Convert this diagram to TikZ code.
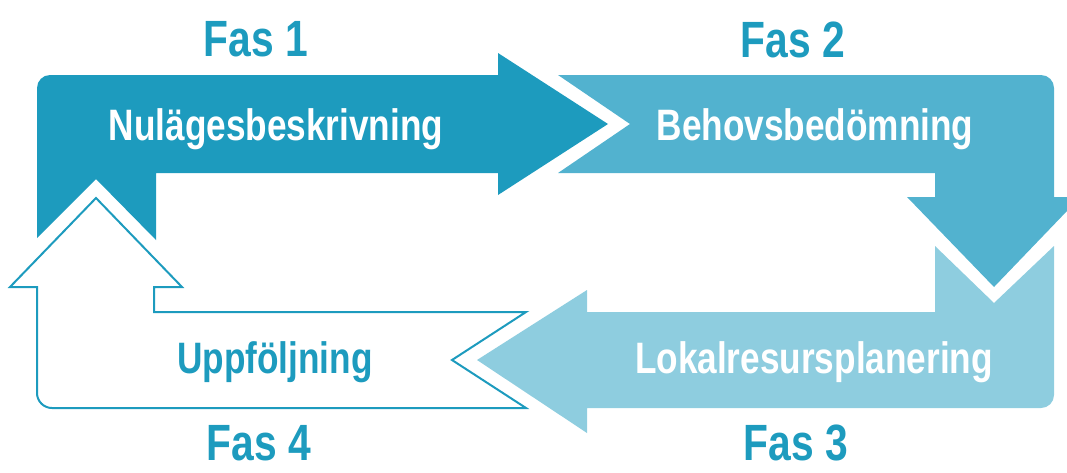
\documentclass[tikz,border=0pt]{standalone}
\usepackage{fontspec}
\setmainfont{Liberation Sans}[FakeStretch=0.8]
\usetikzlibrary{positioning}
\definecolor{fasone}{RGB}{29,155,190}
\definecolor{fastwo}{RGB}{82,178,207}
\definecolor{fasthree}{RGB}{142,205,223}

\begin{document}
\begin{tikzpicture}[x=1pt,y=-1pt,node distance=537pt,line join=miter,
		semithick]
		\tikzstyle{fas}=[text=fasone,inner sep=0pt,font=\fontsize{51}{55}\selectfont\bfseries]
		\tikzstyle{phase}=[text=white,inner sep=0pt,anchor=base,font=\fontsize{44}{48}\selectfont\bfseries]
		\tikzstyle{outline}=[draw=fasone,line width=2pt]
		
		\useasboundingbox (0,0) rectangle (1067,472);
		
		% Fas 1
		\fill[fasone] (37,238) -- (37,200) [rounded corners=13pt] -- (37,75) -- (300,75) [sharp corners]
		-- (498,75) -- (498,53) -- (608,124) -- (498,195) -- (498,173) -- (156,173) -- (156,240) -- (96,179) -- cycle;
		% Fas 2
		\fill[fastwo] (558,75) -- (800,75) [rounded corners=13pt] -- (1054,75) -- (1054,150) [sharp corners]
		-- (1054,197) -- (1067,197) -- (1067,211) -- (994,287) -- (907,197) -- (935,197) -- (935,173) -- (558,173) -- (630,124) -- cycle;
		% Fas 3
		\fill[fasthree] (935,246) -- (994,303) -- (1054,246) -- (1054,300) [rounded corners=13pt] -- (1054,408) -- (800,408) [sharp corners]
		-- (587,408) -- (587,433) -- (477,360) -- (587,290) -- (587,312) -- (935,312) -- cycle;
		% Fas 4
		\path[outline] (96,198) -- (182,287) -- (154,287) -- (154,312) -- (526,312) -- (452,360) -- (526,408) -- (300,408) [rounded corners=15pt]
		-- (37,408) -- (37,350) [sharp corners] -- (37,287) -- (10,287) -- cycle;
		
		\node[phase]              (nul)   at (276,140) {Nulägesbeskrivning};
		\node[phase]              (behov) at (815,140) {Behovsbedömning};
		\node[phase]              (lokal) at (814,373) {Lokalresursplanering};
		\node[phase,text=fasone]  (uppf)  at (275,373) {Uppföljning};
		
		\node[fas]                (fas1)  at (256,39.5) {Fas 1};
		\node[fas]                (fas2)  [right of=fas1] {Fas 2};
		\node[fas]                (fas4)  at (259,443) {Fas 4};
		\node[fas]                (fas3)  [right of=fas4] {Fas 3};
		
\end{tikzpicture}
\end{document}
